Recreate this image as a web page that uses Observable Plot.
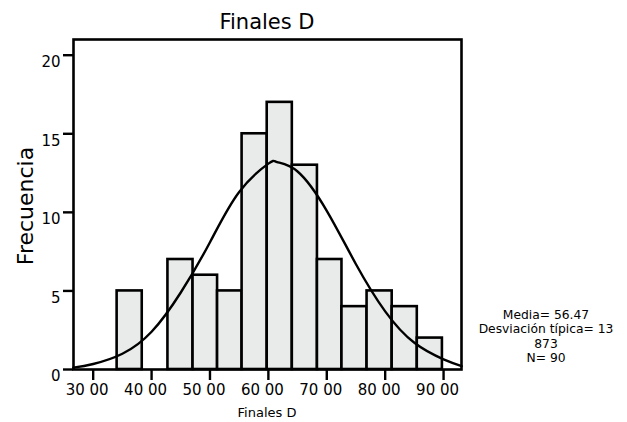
<!DOCTYPE html>
<html>
<head>
<meta charset="utf-8">
<script src="https://cdn.jsdelivr.net/npm/d3@7"></script>
<script src="https://cdn.jsdelivr.net/npm/@observablehq/plot@0.6"></script>
<style>
  html, body { margin: 0; padding: 0; background: white; }
  #chart { width: 627px; height: 422px; }
  svg text { font-family: "DejaVu Sans", sans-serif; }
</style>
</head>
<body>
<div id="chart"></div>
<script>
// ---- data ----
const title = "Finales D";
const xTitle = "Finales D";
const yTitle = "Frecuencia";
const xTicks = [30, 40, 50, 60, 70, 80, 90];
const xTickLabels = ["30 00", "40 00", "50 00", "60 00", "70 00", "80 00", "90 00"];
const yTicks = [0, 5, 10, 15, 20];
const binEdges = [34.1, 38.4, 42.8, 47.1, 51.3, 55.5, 59.8, 64.1, 68.4, 72.6, 76.9, 81.2, 85.5, 89.8];
const counts = [5, 0, 7, 6, 5, 15, 17, 13, 7, 4, 5, 4, 2];
const curveX = [26.6, 30, 35, 40, 45, 50, 55, 60, 61.5, 65, 70, 75, 80, 85, 90, 93.1];
const curveY = [0.12, 0.35, 1.0, 2.4, 4.9, 8.1, 11.3, 13.1, 13.2, 12.6, 10.1, 6.7, 3.7, 1.7, 0.65, 0.22];
const statsLines = ["Media= 56.47", "Desviación típica= 13", "873", "N= 90"];

const bins = counts.map((c, i) => ({lo: binEdges[i], hi: binEdges[i + 1], count: c})).filter(d => d.count > 0);
const curve = curveX.map((x, i) => ({x, y: curveY[i]}));
const tickLabel = new Map(xTicks.map((t, i) => [t, xTickLabels[i]]));

const W = 627, H = 422;
const plot = Plot.plot({
  width: W, height: H,
  marginLeft: 73, marginRight: 166, marginTop: 39, marginBottom: 53,
  style: {fontFamily: "DejaVu Sans", fontSize: "15px", color: "black", background: "white", overflow: "visible"},
  x: {domain: [26.63, 93.07]},
  y: {domain: [0, 21]},
  marks: [
    Plot.rectY(bins, {x1: "lo", x2: "hi", y: "count", fill: "#e9ebea", stroke: "black", strokeWidth: 2.6}),
    Plot.line(curve, {x: "x", y: "y", curve: "natural", stroke: "black", strokeWidth: 2.4}),
    Plot.frame({stroke: "black", strokeWidth: 2.6}),
    // tick marks
    Plot.axisX({ticks: xTicks, tickSize: 11, strokeWidth: 2.4, tickFormat: () => "", label: null}),
    Plot.axisY({ticks: yTicks, tickSize: 10, strokeWidth: 2.4, tickFormat: () => "", label: null}),
    // tick labels (offset as in the reference)
    Plot.axisX({ticks: xTicks, tickSize: 0, tickPadding: 15, tickFormat: d => tickLabel.get(d), dx: -6, label: null}),
    Plot.axisY({ticks: yTicks, tickSize: 0, tickPadding: 13, dy: 7, label: null})
  ]
});
document.getElementById("chart").appendChild(plot);

const svg = d3.select(plot);
const frameCx = (73 + (W - 166)) / 2;
svg.append("text").attr("x", frameCx).attr("y", 29).attr("text-anchor", "middle")
  .attr("font-size", 21).attr("fill", "black").text(title);
svg.append("text").attr("x", frameCx).attr("y", 417).attr("text-anchor", "middle")
  .attr("font-size", 13).attr("fill", "black").text(xTitle);
svg.append("text").attr("transform", "translate(33,206) rotate(-90)").attr("text-anchor", "middle")
  .attr("font-size", 22).attr("fill", "black").text(yTitle);
const st = svg.append("text").attr("text-anchor", "middle").attr("font-size", 12.3).attr("fill", "black");
statsLines.forEach((s, i) => st.append("tspan").attr("x", 546).attr("y", 319 + i * 14.3).text(s));
</script>
</body>
</html>
